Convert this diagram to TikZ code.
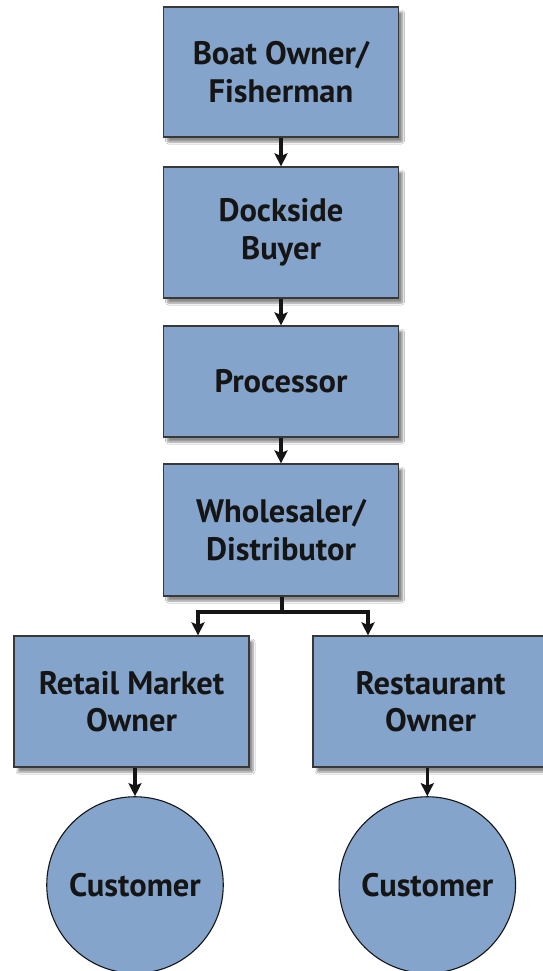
\documentclass[tikz,border=0pt]{standalone}
\usepackage{fontspec}
\setmainfont{PT Sans}
\usetikzlibrary{arrows.meta,shadows.blur}
\definecolor{boxblue}{HTML}{84A4CB}
\definecolor{ink}{HTML}{151515}
\begin{document}
\begin{tikzpicture}[x=1pt,y=-1pt,
  box/.style={draw=ink!85, line width=1.2pt, fill=boxblue, rectangle, inner sep=0pt,
    minimum width=235pt, align=center, text=ink,
    font=\fontsize{32.5}{37.5}\selectfont\bfseries,
    blur shadow={shadow xshift=4pt, shadow yshift=-5pt, shadow blur steps=6, shadow opacity=45, shadow blur extra rounding=1pt}},
  cust/.style={draw=ink, line width=1.1pt, fill=boxblue, circle, inner sep=0pt,
    minimum size=176.5pt, text=ink, font=\fontsize{32.5}{37.5}\selectfont\bfseries},
  arr/.style={draw=ink, line width=3.3pt, -{Stealth[length=13pt,width=13pt,inset=2.5pt]}},
  lnk/.style={draw=ink, line width=3.3pt}]
\useasboundingbox (0,0) rectangle (543,971);
\fill[white] (0,0) rectangle (543,971);
\node[box, minimum height=130pt] (b1) at (281,72) {Boat Owner/\\Fisherman};
\node[box, minimum height=131pt] (b2) at (281,232.5) {Dockside\\Buyer};
\node[box, minimum height=111pt] (b3) at (281,381.5) {Processor};
\node[box, minimum height=132pt] (b4) at (281,530) {Wholesaler/\\Distributor};
\node[box, minimum height=131pt] (b5) at (131.5,701.5) {Retail Market\\Owner};
\node[box, minimum height=131pt] (b6) at (430.5,701.5) {Restaurant\\Owner};
\node[cust] (c1) at (135,885) {Customer};
\node[cust] (c2) at (427.3,885) {Customer};
\coordinate (j) at (282,612);
\coordinate (jl) at (198,612);
\coordinate (jr) at (368,612);
\draw[arr] (b1.south) -- (b2.north);
\draw[arr] (b2.south) -- (b3.north);
\draw[arr] (b3.south) -- (b4.north);
\draw[lnk] (j |- b4.south) -- (j);
\draw[lnk, line cap=rect] (jl) -- (jr);
\draw[arr] (jl) -- (jl |- b5.north);
\draw[arr] (jr) -- (jr |- b6.north);
\draw[arr] (c1.north |- b5.south) -- (c1.north);
\draw[arr] (c2.north |- b6.south) -- (c2.north);
\end{tikzpicture}
\end{document}
